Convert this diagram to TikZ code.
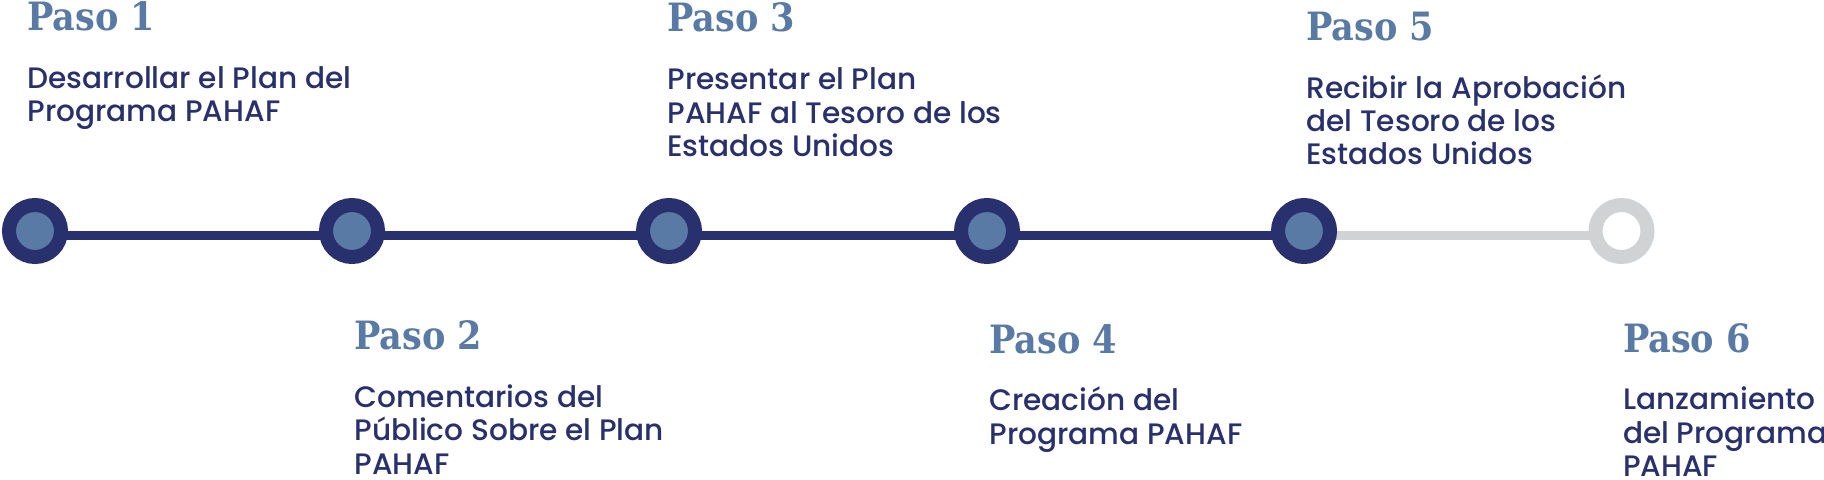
\documentclass[tikz,border=0pt]{standalone}
\usepackage{fontspec}
\usepackage{tikz}
\usetikzlibrary{backgrounds}
\newfontfamily\pasofont{DejaVu Serif Condensed}
\newfontfamily\textofont{Poppins Medium}
\definecolor{navy}{RGB}{41,48,110}
\definecolor{steel}{RGB}{90,122,166}
\definecolor{silver}{RGB}{209,210,212}
\tikzset{%
    paso/.style={anchor=base west,inner sep=0pt,text=steel,
        font=\pasofont\bfseries\fontsize{19.5}{24}\selectfont},
    texto/.style={anchor=base west,inner sep=0pt,text=navy,align=left,
        font=\textofont\fontsize{14.8}{16.7}\selectfont}
}

\begin{document}
\begin{tikzpicture}[x=0.5pt,y=-0.5pt,
  done node/.style={circle,draw=navy,fill=steel,line width=7pt,
    minimum size=26pt,inner sep=0pt},
  todo node/.style={circle,draw=silver,fill=white,line width=7pt,
    minimum size=26pt,inner sep=0pt}]
  \useasboundingbox (0,0) rectangle (1824,480);

  \node[done node] (s1) at (35,231) {};
  \node[done node] (s2) at (352,231) {};
  \node[done node] (s3) at (669,231) {};
  \node[done node] (s4) at (987,231) {};
  \node[done node] (s5) at (1304,231) {};
  \node[todo node] (s6) at (1621.5,231) {};
\begin{scope}[on background layer]
  \draw[navy,line width=4.6pt] ([yshift=-2.25pt]s1.center) -- ([yshift=-2.25pt]s5.center);
  \draw[silver,line width=4.6pt] ([yshift=-2.25pt]s5.center) -- ([yshift=-2.25pt]s6.center);
\end{scope}

  % pasos de arriba (base = ultima linea)
  \node[paso] (p1) at (27,31) {Paso 1};
  \node[texto] (t1) at (27,121.7) {Desarrollar el Plan del\\Programa PAHAF};
  \node[paso] (p3) at (667,31.7) {Paso 3};
  \node[texto] (t3) at (667,156.7) {Presentar el Plan\\PAHAF al Tesoro de los\\Estados Unidos};
  \node[paso] (p5) at (1306,40.7) {Paso 5};
  \node[texto] (t5) at (1306,165) {Recibir la Aprobación\\del Tesoro de los\\Estados Unidos};

  % pasos de abajo
  \node[paso] (p2) at (354,350) {Paso 2};
  \node[texto] (t2) at (354,474) {Comentarios del\\Público Sobre el Plan\\PAHAF};
  \node[paso] (p4) at (989,353.3) {Paso 4};
  \node[texto] (t4) at (989,444) {Creación del\\Programa PAHAF};
  \node[paso] (p6) at (1622.7,352.7) {Paso 6};
  \node[texto] (t6) at (1622.7,476.7) {Lanzamiento\\del Programa\\PAHAF};
\end{tikzpicture}
\end{document}
